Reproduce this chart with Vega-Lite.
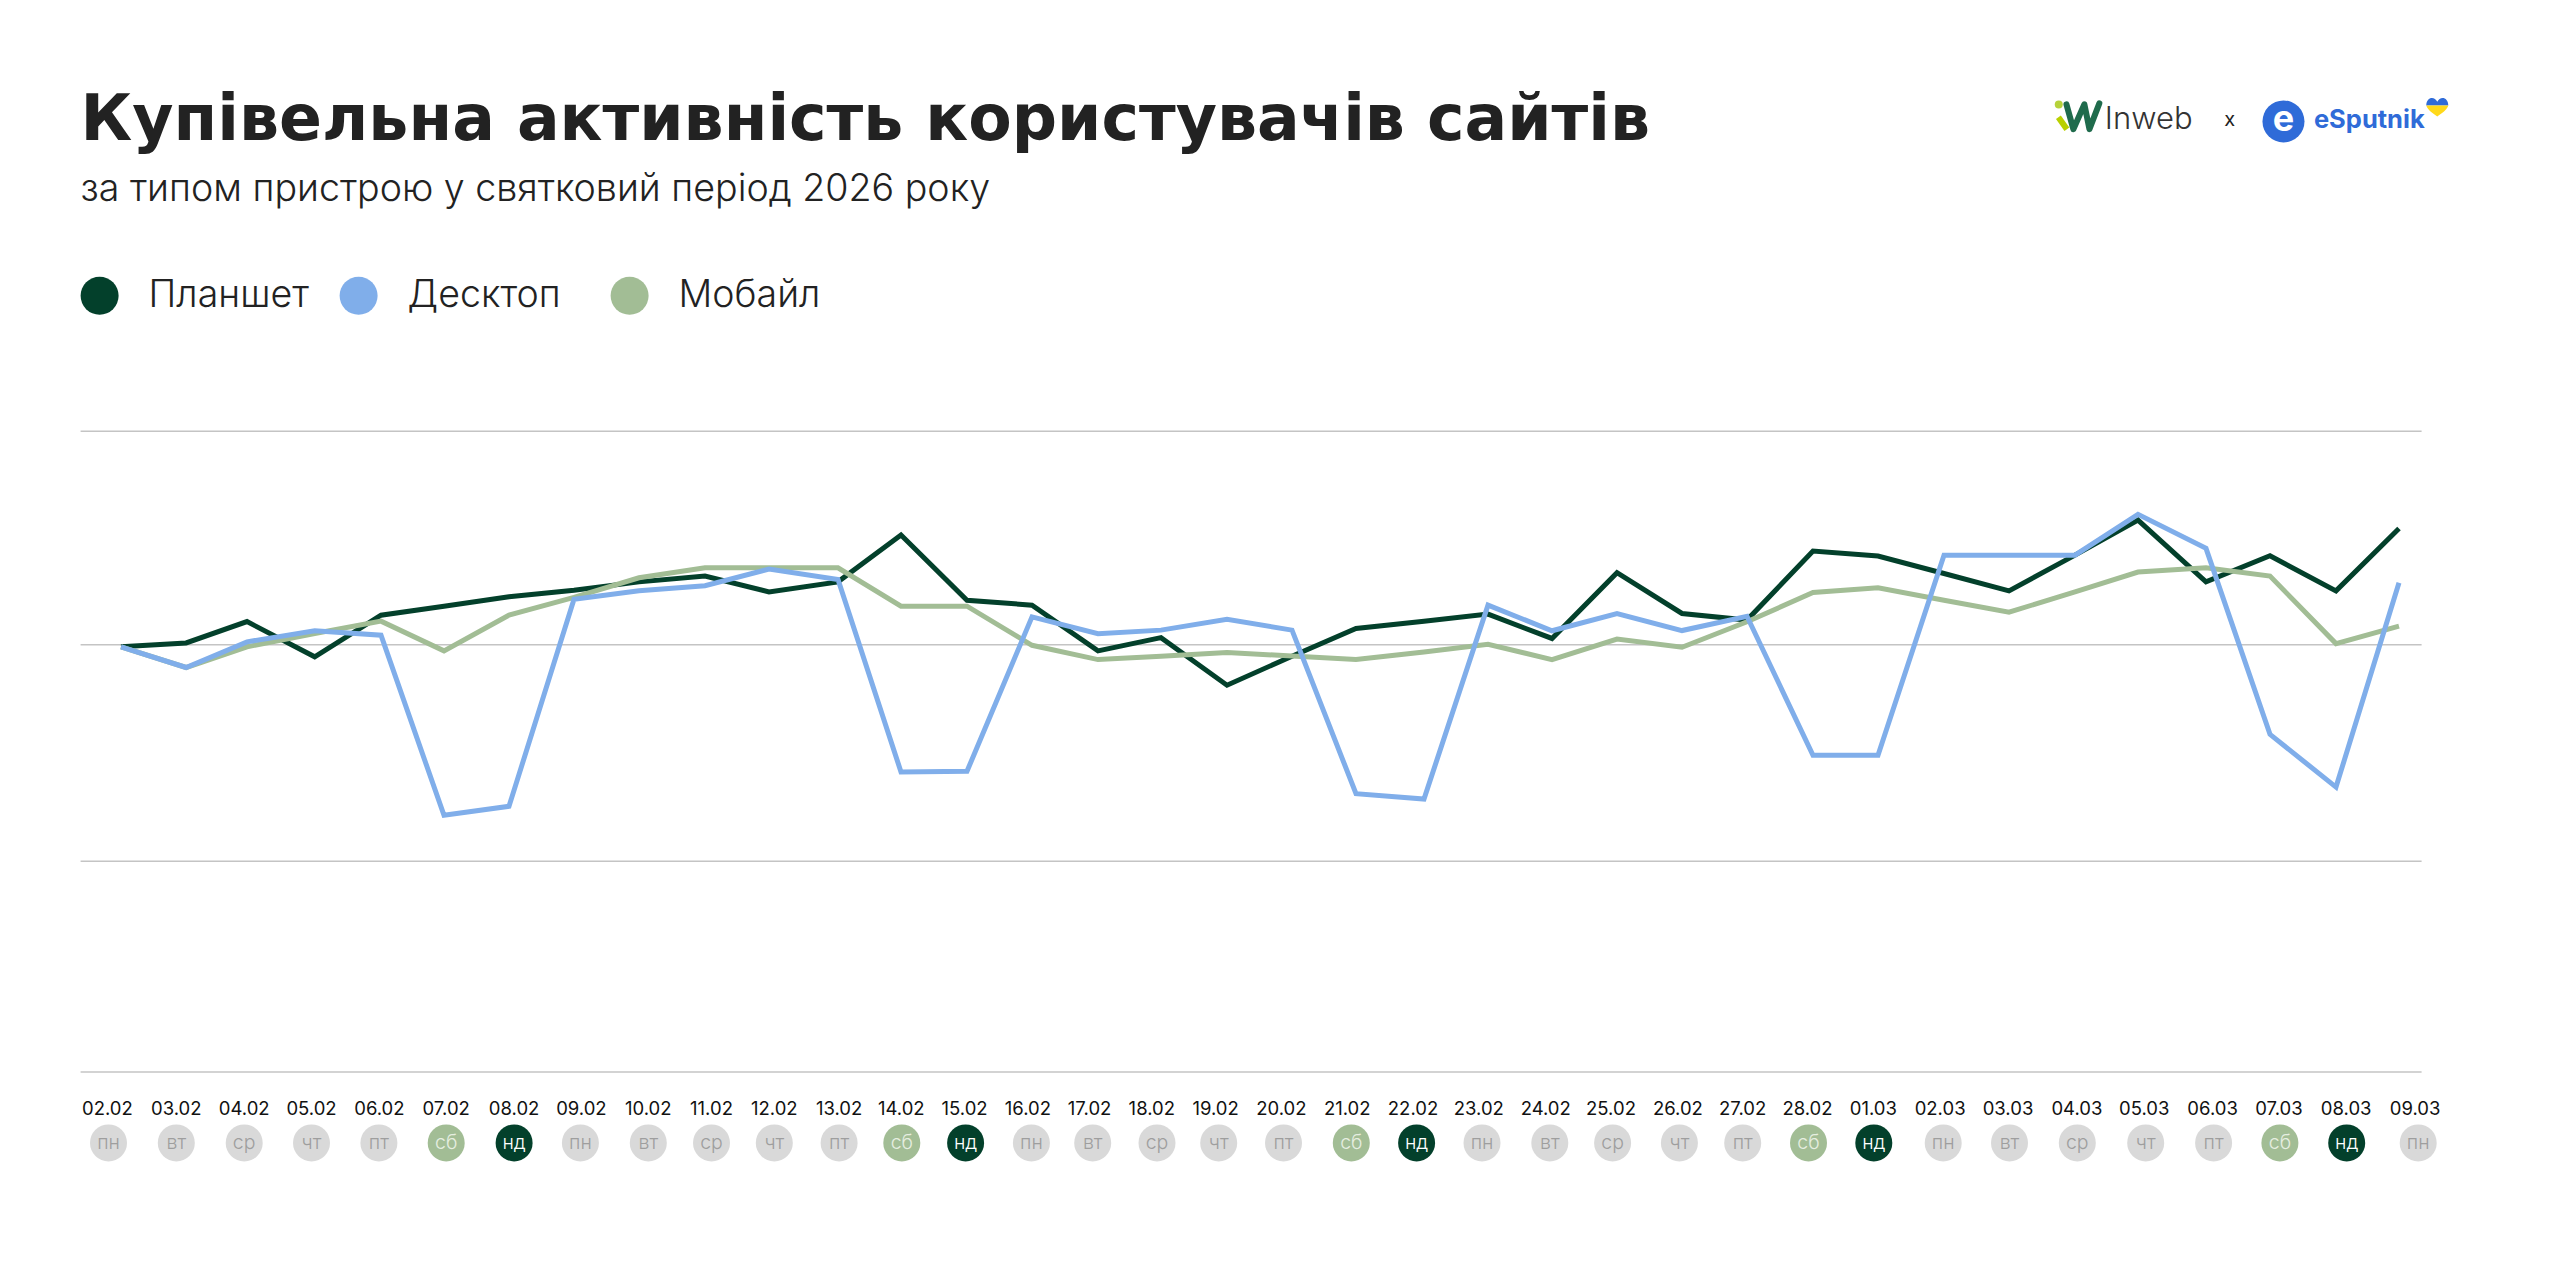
{
  "$schema": "https://vega.github.io/schema/vega-lite/v6.json",
  "autosize": "none",
  "width": 2341,
  "height": 640.7,
  "padding": {"left": 80.6, "top": 431.3, "right": 138.4, "bottom": 191},
  "background": "white",
  "config": {"view": {"stroke": null}},
  "params": [
    {
      "name": "dayDomain",
      "expr": "[utc(2026,1,2),utc(2026,1,3),utc(2026,1,4),utc(2026,1,5),utc(2026,1,6),utc(2026,1,7),utc(2026,1,8),utc(2026,1,9),utc(2026,1,10),utc(2026,1,11),utc(2026,1,12),utc(2026,1,13),utc(2026,1,14),utc(2026,1,15),utc(2026,1,16),utc(2026,1,17),utc(2026,1,18),utc(2026,1,19),utc(2026,1,20),utc(2026,1,21),utc(2026,1,22),utc(2026,1,23),utc(2026,1,24),utc(2026,1,25),utc(2026,1,26),utc(2026,1,27),utc(2026,1,28),utc(2026,2,1),utc(2026,2,2),utc(2026,2,3),utc(2026,2,4),utc(2026,2,5),utc(2026,2,6),utc(2026,2,7),utc(2026,2,8),utc(2026,2,9)]"
    }
  ],
  "title": {
    "text": "Купівельна активність користувачів сайтів",
    "subtitle": "за типом пристрою у святковий період 2026 року",
    "anchor": "start",
    "frame": "group",
    "font": "DejaVu Sans",
    "fontWeight": "bold",
    "fontSize": 63.3,
    "color": "#222222",
    "subtitleFont": "Inter",
    "subtitleFontWeight": 300,
    "subtitleFontSize": 37.6,
    "subtitleColor": "#222222",
    "subtitlePadding": 18,
    "offset": -112
  },
  "datasets": {
    "grid": [{"line": 100}, {"line": 0}, {"line": -101.3}, {"line": -200}],
    "days": [
      {"date": "2026-02-02", "label": "02.02", "weekday": "пн"},
      {"date": "2026-02-03", "label": "03.02", "weekday": "вт"},
      {"date": "2026-02-04", "label": "04.02", "weekday": "ср"},
      {"date": "2026-02-05", "label": "05.02", "weekday": "чт"},
      {"date": "2026-02-06", "label": "06.02", "weekday": "пт"},
      {"date": "2026-02-07", "label": "07.02", "weekday": "сб"},
      {"date": "2026-02-08", "label": "08.02", "weekday": "нд"},
      {"date": "2026-02-09", "label": "09.02", "weekday": "пн"},
      {"date": "2026-02-10", "label": "10.02", "weekday": "вт"},
      {"date": "2026-02-11", "label": "11.02", "weekday": "ср"},
      {"date": "2026-02-12", "label": "12.02", "weekday": "чт"},
      {"date": "2026-02-13", "label": "13.02", "weekday": "пт"},
      {"date": "2026-02-14", "label": "14.02", "weekday": "сб"},
      {"date": "2026-02-15", "label": "15.02", "weekday": "нд"},
      {"date": "2026-02-16", "label": "16.02", "weekday": "пн"},
      {"date": "2026-02-17", "label": "17.02", "weekday": "вт"},
      {"date": "2026-02-18", "label": "18.02", "weekday": "ср"},
      {"date": "2026-02-19", "label": "19.02", "weekday": "чт"},
      {"date": "2026-02-20", "label": "20.02", "weekday": "пт"},
      {"date": "2026-02-21", "label": "21.02", "weekday": "сб"},
      {"date": "2026-02-22", "label": "22.02", "weekday": "нд"},
      {"date": "2026-02-23", "label": "23.02", "weekday": "пн"},
      {"date": "2026-02-24", "label": "24.02", "weekday": "вт"},
      {"date": "2026-02-25", "label": "25.02", "weekday": "ср"},
      {"date": "2026-02-26", "label": "26.02", "weekday": "чт"},
      {"date": "2026-02-27", "label": "27.02", "weekday": "пт"},
      {"date": "2026-02-28", "label": "28.02", "weekday": "сб"},
      {"date": "2026-03-01", "label": "01.03", "weekday": "нд"},
      {"date": "2026-03-02", "label": "02.03", "weekday": "пн"},
      {"date": "2026-03-03", "label": "03.03", "weekday": "вт"},
      {"date": "2026-03-04", "label": "04.03", "weekday": "ср"},
      {"date": "2026-03-05", "label": "05.03", "weekday": "чт"},
      {"date": "2026-03-06", "label": "06.03", "weekday": "пт"},
      {"date": "2026-03-07", "label": "07.03", "weekday": "сб"},
      {"date": "2026-03-08", "label": "08.03", "weekday": "нд"},
      {"date": "2026-03-09", "label": "09.03", "weekday": "пн"}
    ],
    "activity": [
      {"date": "2026-02-02", "device": "Планшет", "value": -0.9},
      {"date": "2026-02-03", "device": "Планшет", "value": 0.9},
      {"date": "2026-02-04", "device": "Планшет", "value": 10.9},
      {"date": "2026-02-05", "device": "Планшет", "value": -5.6},
      {"date": "2026-02-06", "device": "Планшет", "value": 13.9},
      {"date": "2026-02-07", "device": "Планшет", "value": 18.1},
      {"date": "2026-02-08", "device": "Планшет", "value": 22.5},
      {"date": "2026-02-09", "device": "Планшет", "value": 25.6},
      {"date": "2026-02-10", "device": "Планшет", "value": 29.5},
      {"date": "2026-02-11", "device": "Планшет", "value": 32.2},
      {"date": "2026-02-12", "device": "Планшет", "value": 24.8},
      {"date": "2026-02-13", "device": "Планшет", "value": 29.5},
      {"date": "2026-02-14", "device": "Планшет", "value": 51.4},
      {"date": "2026-02-15", "device": "Планшет", "value": 20.9},
      {"date": "2026-02-16", "device": "Планшет", "value": 18.6},
      {"date": "2026-02-17", "device": "Планшет", "value": -2.8},
      {"date": "2026-02-18", "device": "Планшет", "value": 3.4},
      {"date": "2026-02-19", "device": "Планшет", "value": -18.9},
      {"date": "2026-02-20", "device": "Планшет", "value": -5.3},
      {"date": "2026-02-21", "device": "Планшет", "value": 7.7},
      {"date": "2026-02-22", "device": "Планшет", "value": 11.1},
      {"date": "2026-02-23", "device": "Планшет", "value": 14.4},
      {"date": "2026-02-24", "device": "Планшет", "value": 3.0},
      {"date": "2026-02-25", "device": "Планшет", "value": 33.8},
      {"date": "2026-02-26", "device": "Планшет", "value": 14.7},
      {"date": "2026-02-27", "device": "Планшет", "value": 11.6},
      {"date": "2026-02-28", "device": "Планшет", "value": 43.9},
      {"date": "2026-03-01", "device": "Планшет", "value": 41.6},
      {"date": "2026-03-02", "device": "Планшет", "value": 33.4},
      {"date": "2026-03-03", "device": "Планшет", "value": 25.3},
      {"date": "2026-03-04", "device": "Планшет", "value": 42.0},
      {"date": "2026-03-05", "device": "Планшет", "value": 58.4},
      {"date": "2026-03-06", "device": "Планшет", "value": 29.5},
      {"date": "2026-03-07", "device": "Планшет", "value": 41.7},
      {"date": "2026-03-08", "device": "Планшет", "value": 25.3},
      {"date": "2026-03-09", "device": "Планшет", "value": 54.5},
      {"date": "2026-02-02", "device": "Мобайл", "value": -0.9},
      {"date": "2026-02-03", "device": "Мобайл", "value": -10.6},
      {"date": "2026-02-04", "device": "Мобайл", "value": -0.9},
      {"date": "2026-02-05", "device": "Мобайл", "value": 5.3},
      {"date": "2026-02-06", "device": "Мобайл", "value": 11.1},
      {"date": "2026-02-07", "device": "Мобайл", "value": -2.8},
      {"date": "2026-02-08", "device": "Мобайл", "value": 13.9},
      {"date": "2026-02-09", "device": "Мобайл", "value": 22.2},
      {"date": "2026-02-10", "device": "Мобайл", "value": 31.4},
      {"date": "2026-02-11", "device": "Мобайл", "value": 36.1},
      {"date": "2026-02-12", "device": "Мобайл", "value": 36.1},
      {"date": "2026-02-13", "device": "Мобайл", "value": 36.1},
      {"date": "2026-02-14", "device": "Мобайл", "value": 18.1},
      {"date": "2026-02-15", "device": "Мобайл", "value": 18.1},
      {"date": "2026-02-16", "device": "Мобайл", "value": -0.2},
      {"date": "2026-02-17", "device": "Мобайл", "value": -6.9},
      {"date": "2026-02-18", "device": "Мобайл", "value": -5.3},
      {"date": "2026-02-19", "device": "Мобайл", "value": -3.6},
      {"date": "2026-02-20", "device": "Мобайл", "value": -5.2},
      {"date": "2026-02-21", "device": "Мобайл", "value": -6.9},
      {"date": "2026-02-22", "device": "Мобайл", "value": -3.3},
      {"date": "2026-02-23", "device": "Мобайл", "value": 0.3},
      {"date": "2026-02-24", "device": "Мобайл", "value": -6.9},
      {"date": "2026-02-25", "device": "Мобайл", "value": 2.7},
      {"date": "2026-02-26", "device": "Мобайл", "value": -1.1},
      {"date": "2026-02-27", "device": "Мобайл", "value": 10.8},
      {"date": "2026-02-28", "device": "Мобайл", "value": 24.5},
      {"date": "2026-03-01", "device": "Мобайл", "value": 26.7},
      {"date": "2026-03-02", "device": "Мобайл", "value": 20.9},
      {"date": "2026-03-03", "device": "Мобайл", "value": 15.3},
      {"date": "2026-03-04", "device": "Мобайл", "value": 24.8},
      {"date": "2026-03-05", "device": "Мобайл", "value": 34.1},
      {"date": "2026-03-06", "device": "Мобайл", "value": 36.1},
      {"date": "2026-03-07", "device": "Мобайл", "value": 32.2},
      {"date": "2026-03-08", "device": "Мобайл", "value": 0.6},
      {"date": "2026-03-09", "device": "Мобайл", "value": 8.8},
      {"date": "2026-02-02", "device": "Десктоп", "value": -0.9},
      {"date": "2026-02-03", "device": "Десктоп", "value": -10.6},
      {"date": "2026-02-04", "device": "Десктоп", "value": 1.4},
      {"date": "2026-02-05", "device": "Десктоп", "value": 6.6},
      {"date": "2026-02-06", "device": "Десктоп", "value": 4.5},
      {"date": "2026-02-07", "device": "Десктоп", "value": -79.8},
      {"date": "2026-02-08", "device": "Десктоп", "value": -75.6},
      {"date": "2026-02-09", "device": "Десктоп", "value": 21.4},
      {"date": "2026-02-10", "device": "Десктоп", "value": 25.3},
      {"date": "2026-02-11", "device": "Десктоп", "value": 27.7},
      {"date": "2026-02-12", "device": "Десктоп", "value": 35.5},
      {"date": "2026-02-13", "device": "Десктоп", "value": 30.6},
      {"date": "2026-02-14", "device": "Десктоп", "value": -59.5},
      {"date": "2026-02-15", "device": "Десктоп", "value": -59.2},
      {"date": "2026-02-16", "device": "Десктоп", "value": 13.1},
      {"date": "2026-02-17", "device": "Десктоп", "value": 5.2},
      {"date": "2026-02-18", "device": "Десктоп", "value": 6.9},
      {"date": "2026-02-19", "device": "Десктоп", "value": 12.0},
      {"date": "2026-02-20", "device": "Десктоп", "value": 6.9},
      {"date": "2026-02-21", "device": "Десктоп", "value": -69.7},
      {"date": "2026-02-22", "device": "Десктоп", "value": -72.2},
      {"date": "2026-02-23", "device": "Десктоп", "value": 18.6},
      {"date": "2026-02-24", "device": "Десктоп", "value": 6.6},
      {"date": "2026-02-25", "device": "Десктоп", "value": 14.7},
      {"date": "2026-02-26", "device": "Десктоп", "value": 6.7},
      {"date": "2026-02-27", "device": "Десктоп", "value": 13.4},
      {"date": "2026-02-28", "device": "Десктоп", "value": -51.7},
      {"date": "2026-03-01", "device": "Десктоп", "value": -51.7},
      {"date": "2026-03-02", "device": "Десктоп", "value": 42.0},
      {"date": "2026-03-03", "device": "Десктоп", "value": 42.0},
      {"date": "2026-03-04", "device": "Десктоп", "value": 42.0},
      {"date": "2026-03-05", "device": "Десктоп", "value": 61.1},
      {"date": "2026-03-06", "device": "Десктоп", "value": 45.2},
      {"date": "2026-03-07", "device": "Десктоп", "value": -41.9},
      {"date": "2026-03-08", "device": "Десктоп", "value": -66.6},
      {"date": "2026-03-09", "device": "Десктоп", "value": 29.1}
    ],
    "one": [{"logo": 1}]
  },
  "resolve": {"scale": {"x": "independent"}},
  "layer": [
    {
      "data": {"name": "grid"},
      "mark": {"type": "rule", "color": "#c4c4c4", "strokeWidth": 1.5},
      "encoding": {
        "x": {"datum": 0, "type": "quantitative", "axis": null, "scale": {"domain": [0, 100], "nice": false}},
        "x2": {"datum": 100},
        "y": {"field": "line", "type": "quantitative", "axis": null, "scale": {"domain": [-200, 100], "nice": false, "zero": false}}
      }
    },
    {
      "data": {"name": "activity"},
      "mark": {"type": "line", "strokeWidth": 5, "strokeJoin": "miter", "strokeCap": "butt", "clip": false},
      "encoding": {
        "x": {
          "field": "date",
          "type": "temporal",
          "axis": null,
          "scale": {
            "nice": false,
            "domainRaw": {"expr": "dayDomain"},
            "range": [40.4,105.5,166.4,234.1,300.4,363.4,428.4,493.4,558.4,624.4,688.4,757.4,820.4,886.4,951.4,1017.4,1080.4,1146.4,1211.4,1275.4,1343.4,1407.4,1471.4,1536.4,1601.4,1666.4,1732.4,1797.4,1863.4,1928.4,1994.4,2057.4,2125.4,2189.4,2255.4,2318.4]
          }
        },
        "y": {"field": "value", "type": "quantitative"},
        "color": {
          "field": "device",
          "type": "nominal",
          "scale": {"domain": ["Планшет", "Десктоп", "Мобайл"], "range": ["#03402b", "#80aeea", "#a2bd95"]},
          "legend": {
            "orient": "none",
            "legendX": 0,
            "legendY": -154.5,
            "direction": "horizontal",
            "title": null,
            "symbolType": "circle",
            "symbolSize": 1444,
            "symbolStrokeWidth": 0,
            "labelFont": "Inter",
            "labelFontWeight": 300,
            "labelFontSize": 37.5,
            "labelColor": "#222222",
            "labelOffset": 30,
            "labelLimit": 400,
            "columnPadding": 30,
            "encode": {
              "symbols": {"update": {"fill": {"scale": "color", "field": "value"}, "opacity": {"value": 1}, "x": {"signal": "datum.value === 'Мобайл' ? 39 : 19"}}},
              "labels": {"update": {"dx": {"signal": "datum.value === 'Мобайл' ? 20 : 0"}}}
            }
          }
        },
        "order": {"field": "date", "type": "temporal"}
      }
    },
    {
      "data": {"name": "days"},
      "mark": {"type": "point", "filled": true, "shape": "circle", "size": 1369, "opacity": 1},
      "encoding": {
        "x": {
          "field": "date",
          "type": "temporal",
          "axis": null,
          "scale": {
            "nice": false,
            "domainRaw": {"expr": "dayDomain"},
            "range": [27.9,95.7,163.6,230.9,298.3,365.6,433.5,499.8,567.7,630.9,693.7,758.5,821.2,885,950.8,1012.1,1076.4,1138.1,1202.9,1270.7,1336,1401.4,1469.2,1532,1598.8,1662.1,1727.9,1793.2,1862.6,1928.9,1996.7,2065.1,2133,2199.3,2266.1,2337.6]
          }
        },
        "y": {"datum": -233.2},
        "fill": {
          "field": "weekday",
          "type": "nominal",
          "legend": null,
          "scale": {"domain": ["пн", "вт", "ср", "чт", "пт", "сб", "нд"], "range": ["#d9d9d9", "#d9d9d9", "#d9d9d9", "#d9d9d9", "#d9d9d9", "#a2bd95", "#03402b"]}
        }
      }
    },
    {
      "data": {"name": "days"},
      "mark": {"type": "text", "font": "Inter", "fontWeight": 300, "fontSize": 19.5, "baseline": "middle", "align": "center"},
      "encoding": {
        "x": {
          "field": "date",
          "type": "temporal",
          "axis": null,
          "scale": {
            "nice": false,
            "domainRaw": {"expr": "dayDomain"},
            "range": [27.9,95.7,163.6,230.9,298.3,365.6,433.5,499.8,567.7,630.9,693.7,758.5,821.2,885,950.8,1012.1,1076.4,1138.1,1202.9,1270.7,1336,1401.4,1469.2,1532,1598.8,1662.1,1727.9,1793.2,1862.6,1928.9,1996.7,2065.1,2133,2199.3,2266.1,2337.6]
          }
        },
        "y": {"datum": -233.2},
        "text": {"field": "weekday"},
        "color": {
          "condition": [
            {"test": "datum.weekday === 'нд'", "value": "#ffffff"},
            {"test": "datum.weekday === 'сб'", "value": "#e6eee0"}
          ],
          "value": "#9e9e9e"
        }
      }
    },
    {
      "data": {"name": "days"},
      "mark": {"type": "text", "font": "Inter", "fontWeight": 400, "fontSize": 18.5, "baseline": "middle", "align": "center", "color": "#111111"},
      "encoding": {
        "x": {
          "field": "date",
          "type": "temporal",
          "axis": null,
          "scale": {
            "nice": false,
            "domainRaw": {"expr": "dayDomain"},
            "range": [26.8,95.7,163.6,230.9,298.8,365.6,433.5,500.8,567.7,630.9,693.7,758.5,820.7,884,947.3,1009,1071.2,1135,1200.8,1266.6,1332.4,1398.2,1465.1,1530.4,1597.3,1662.1,1726.9,1792.7,1859.5,1927.4,1996.3,2063.6,2132,2198.3,2265.6,2334.5]
          }
        },
        "y": {"datum": -217.2},
        "text": {"field": "label"}
      }
    },
    {
      "data": {"name": "one"},
      "mark": {"type": "text", "text": "Inweb", "font": "Inter", "fontWeight": 300, "fontSize": 31, "baseline": "middle", "align": "left", "color": "#333333"},
      "encoding": {
        "x": {"datum": 86.47, "type": "quantitative", "axis": null, "scale": {"domain": [0, 100], "nice": false}},
        "y": {"datum": 245.6}
      }
    },
    {
      "data": {"name": "one"},
      "mark": {"type": "text", "text": "x", "font": "Inter", "fontWeight": 400, "fontSize": 20, "baseline": "middle", "align": "center", "color": "#222222"},
      "encoding": {
        "x": {"datum": 91.8, "type": "quantitative", "axis": null, "scale": {"domain": [0, 100], "nice": false}},
        "y": {"datum": 245.6}
      }
    },
    {
      "data": {"name": "one"},
      "mark": {"type": "text", "text": "eSputnik", "font": "Inter", "fontWeight": 700, "fontSize": 25.5, "baseline": "middle", "align": "left", "color": "#2f6bd8"},
      "encoding": {
        "x": {"datum": 95.4, "type": "quantitative", "axis": null, "scale": {"domain": [0, 100], "nice": false}},
        "y": {"datum": 245.6}
      }
    },
    {
      "data": {"name": "one"},
      "mark": {"type": "point", "filled": true, "shape": "circle", "size": 1764, "color": "#2f6bd8", "opacity": 1},
      "encoding": {
        "x": {"datum": 94.1, "type": "quantitative", "axis": null, "scale": {"domain": [0, 100], "nice": false}},
        "y": {"datum": 245.1}
      }
    },
    {
      "data": {"name": "one"},
      "mark": {"type": "text", "text": "e", "font": "Inter", "fontWeight": 700, "fontSize": 36, "baseline": "middle", "align": "center", "color": "#ffffff"},
      "encoding": {
        "x": {"datum": 94.1, "type": "quantitative", "axis": null, "scale": {"domain": [0, 100], "nice": false}},
        "y": {"datum": 245.6}
      }
    },
    {
      "data": {"name": "one"},
      "mark": {"type": "point", "filled": true, "opacity": 1, "size": 484, "color": "#2f6bd8", "shape": "M-1 -0.1 C-1 -0.9 -0.25 -1 0 -0.45 C0.25 -1 1 -0.9 1 -0.1 Z"},
      "encoding": {
        "x": {"datum": 100.67, "type": "quantitative", "axis": null, "scale": {"domain": [0, 100], "nice": false}},
        "y": {"datum": 252}
      }
    },
    {
      "data": {"name": "one"},
      "mark": {"type": "point", "filled": true, "opacity": 1, "size": 484, "color": "#ffd91a", "shape": "M-1 -0.1 L1 -0.1 C0.9 0.3 0.4 0.6 0 0.9 C-0.4 0.6 -0.9 0.3 -1 -0.1 Z"},
      "encoding": {
        "x": {"datum": 100.67, "type": "quantitative", "axis": null, "scale": {"domain": [0, 100], "nice": false}},
        "y": {"datum": 252}
      }
    },
    {
      "data": {"name": "one"},
      "mark": {"type": "point", "filled": true, "shape": "circle", "size": 64, "color": "#b6d23a", "opacity": 1},
      "encoding": {
        "x": {"datum": 84.5, "type": "quantitative", "axis": null, "scale": {"domain": [0, 100], "nice": false}},
        "y": {"datum": 253}
      }
    },
    {
      "data": {"name": "one"},
      "mark": {"type": "point", "filled": false, "opacity": 1, "size": 2116, "strokeWidth": 6, "color": "#b9d000", "shape": "M-0.87 0.04 L-0.5 0.56"},
      "encoding": {
        "x": {"datum": 85.34, "type": "quantitative", "axis": null, "scale": {"domain": [0, 100], "nice": false}},
        "y": {"datum": 247.5}
      }
    },
    {
      "data": {"name": "one"},
      "mark": {"type": "point", "filled": false, "opacity": 1, "size": 2116, "strokeWidth": 6, "strokeJoin": "round", "strokeCap": "round", "color": "#1f6b4c", "shape": "M-0.52 -0.52 L-0.22 0.56 L0.26 -0.52 L0.48 0.56 L0.91 -0.56"},
      "encoding": {
        "x": {"datum": 85.34, "type": "quantitative", "axis": null, "scale": {"domain": [0, 100], "nice": false}},
        "y": {"datum": 247.5}
      }
    }
  ]
}
